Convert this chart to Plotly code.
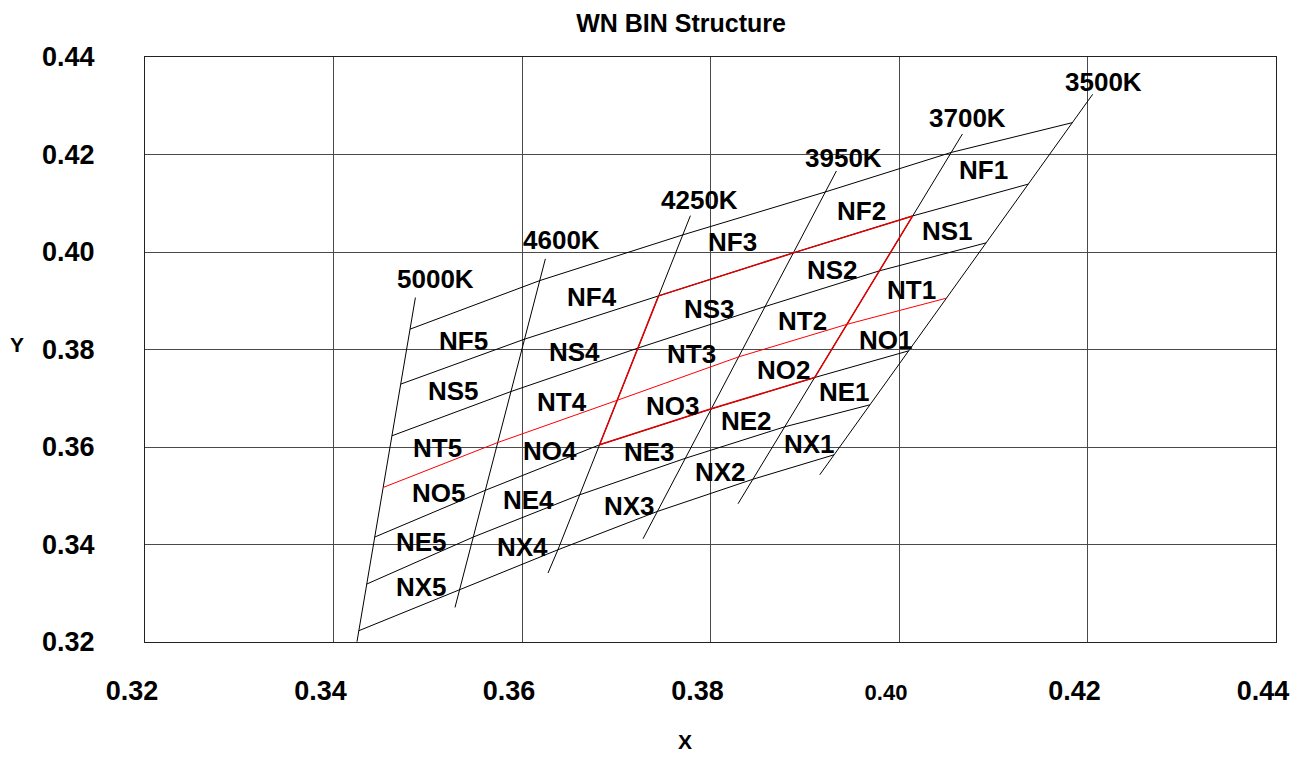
import plotly.graph_objects as go

# ---------------- data ----------------
cct_labels = ['5000K', '4600K', '4250K', '3950K', '3700K', '3500K']
bin_rows = ['F', 'S', 'T', 'O', 'E', 'X']          # between boundary lines 0-1, 1-2, ... 5-6
bin_cols = ['5', '4', '3', '2', '1']               # between isotherms 0-1, 1-2, ... 4-5

# vertices: x / y of each isotherm where it meets boundary lines 0..6 (top to bottom)
iso_x = [
    [0.34812, 0.34713, 0.34620, 0.34527, 0.34438, 0.34353, 0.34269],
    [0.36189, 0.36027, 0.35883, 0.35743, 0.35611, 0.35483, 0.35338],
    [0.37706, 0.37449, 0.37229, 0.37010, 0.36823, 0.36613, 0.36381],
    [0.39219, 0.38879, 0.38579, 0.38299, 0.38009, 0.37733, 0.37436],
    [0.40554, 0.40145, 0.39791, 0.39447, 0.39105, 0.38787, 0.38449],
    [0.41839, 0.41371, 0.40924, 0.40503, 0.40102, 0.39691, 0.39311],
]
iso_y = [
    [0.38417, 0.37290, 0.36230, 0.35170, 0.34153, 0.33189, 0.32232],
    [0.39414, 0.38212, 0.37138, 0.36092, 0.35112, 0.34153, 0.33072],
    [0.40351, 0.39100, 0.38028, 0.36958, 0.36045, 0.35020, 0.33892],
    [0.41232, 0.39982, 0.38881, 0.37849, 0.36783, 0.35768, 0.34678],
    [0.42042, 0.40740, 0.39613, 0.38516, 0.37425, 0.36414, 0.35338],
    [0.42653, 0.41392, 0.40187, 0.39053, 0.37972, 0.36865, 0.35840],
]
# isotherm end points
iso_top_x = [0.34869, 0.36248, 0.37787, 0.39336, 0.40673, 0.42055]
iso_top_y = [0.39065, 0.39859, 0.40746, 0.41663, 0.42421, 0.43235]
iso_bot_x = [0.34249, 0.35289, 0.36276, 0.37284, 0.38292, 0.39159]
iso_bot_y = [0.32006, 0.32709, 0.33415, 0.34118, 0.34836, 0.35430]

planck_line = 3            # boundary line drawn in red (black body locus)
red_rows = [1, 4]          # red quad: boundary lines
red_isos = [2, 4]          # red quad: isotherms

x_tick_vals = [0.32, 0.34, 0.36, 0.38, 0.40, 0.42, 0.44]
x_tick_text = ['0.32', '0.34', '0.36', '0.38', '0.40', '0.42', '0.44']
y_tick_vals = [0.32, 0.34, 0.36, 0.38, 0.40, 0.42, 0.44]
y_tick_text = ['0.32', '0.34', '0.36', '0.38', '0.40', '0.42', '0.44']

# ---------------- styling / placement ----------------
FONT = 'Liberation Sans'
LABEL_SIZE = 26
cct_shift_x = [20, 16, 9, 7, 5, 11]
cct_shift_y = [19, 19, 16, 13, 16, 12]
# pixel nudges of bin labels from the bin centroid (dx right, dy down)
bin_nudge = [
    [(-5, 8), (-9, 9), (-8, -2), (-9, 8), (-8, 1)],
    [(-4, 3), (-8, 8), (-4, 8), (-5, 8), (-4, 3)],
    [(-8, 9), (-4, 6), (2, 1), (-5, 6), (-3, 6)],
    [(3, 4), (0, 7), (6, 3), (6, 3), (6, 2)],
    [(-4, 5), (-6, 8), (5, 0), (-3, 3), (0, 2)],
    [(7, 2), (5, 4), (9, 2), (0, 3), (-1, 3)],
]

fig = go.Figure()
n_iso = len(cct_labels)
n_lines = len(iso_x[0])


def add_line(xs, ys, color='black', width=1):
    fig.add_trace(go.Scatter(x=xs, y=ys, mode='lines', hoverinfo='skip',
                             showlegend=False,
                             line=dict(color=color, width=width)))


# isotherms
for i in range(n_iso):
    add_line([iso_top_x[i]] + iso_x[i] + [iso_bot_x[i]],
             [iso_top_y[i]] + iso_y[i] + [iso_bot_y[i]])

# boundary (constant duv) lines
for j in range(n_lines):
    if j == planck_line:
        continue
    add_line([iso_x[i][j] for i in range(n_iso)],
             [iso_y[i][j] for i in range(n_iso)])

# red quad
for j in red_rows:
    add_line([iso_x[i][j] for i in range(red_isos[0], red_isos[1] + 1)],
             [iso_y[i][j] for i in range(red_isos[0], red_isos[1] + 1)],
             color='#e00000', width=1.5)
for i in red_isos:
    add_line(iso_x[i][red_rows[0]:red_rows[1] + 1],
             iso_y[i][red_rows[0]:red_rows[1] + 1],
             color='#e00000', width=1.5)

# black body locus
add_line([iso_x[i][planck_line] for i in range(n_iso)],
         [iso_y[i][planck_line] for i in range(n_iso)],
         color='#ff0000', width=1)

annotations = []
# temperature labels
for i, lab in enumerate(cct_labels):
    annotations.append(dict(x=iso_top_x[i], y=iso_top_y[i], xref='x', yref='y',
                            text='<b>%s</b>' % lab, showarrow=False,
                            xanchor='center', yanchor='middle',
                            xshift=cct_shift_x[i], yshift=cct_shift_y[i],
                            font=dict(family=FONT, size=LABEL_SIZE, color='black')))

# bin labels at the centroid of each bin
for r, row in enumerate(bin_rows):
    for c, col in enumerate(bin_cols):
        xs = [iso_x[c][r], iso_x[c + 1][r], iso_x[c][r + 1], iso_x[c + 1][r + 1]]
        ys = [iso_y[c][r], iso_y[c + 1][r], iso_y[c][r + 1], iso_y[c + 1][r + 1]]
        dx, dy = bin_nudge[r][c]
        annotations.append(dict(x=sum(xs) / 4, y=sum(ys) / 4, xref='x', yref='y',
                                text='<b>N%s%s</b>' % (row, col), showarrow=False,
                                xanchor='center', yanchor='middle',
                                xshift=dx, yshift=-dy,
                                font=dict(family=FONT, size=LABEL_SIZE, color='black')))

# axis titles
annotations.append(dict(x=0.4772, y=-0.170, xref='paper', yref='paper', text='<b>X</b>',
                        showarrow=False, xanchor='center', yanchor='middle',
                        font=dict(family=FONT, size=21, color='black')))
annotations.append(dict(x=-0.1134, y=0.5094, xref='paper', yref='paper', text='<b>Y</b>',
                        showarrow=False, xanchor='center', yanchor='middle',
                        font=dict(family=FONT, size=21, color='black')))

x_text = ['<b>%s</b>' % t if t != '0.40' else '<b><span style="font-size:22px">%s</span></b>' % t
          for t in x_tick_text]
y_text = ['<b>%s</b>' % t for t in y_tick_text]

# the page adds an 8px body margin, so the figure is sized to fit inside it
W, H = 1285, 744
fig.update_layout(
    width=W, height=H, autosize=False,
    margin=dict(l=137, r=17, t=49, b=110),
    paper_bgcolor='white', plot_bgcolor='white',
    title=dict(text='<b>WN BIN Structure</b>', x=(681 - 8) / W, y=1 - (23 - 8) / H,
               xanchor='center', yanchor='middle', xref='container', yref='container',
               font=dict(family=FONT, size=25, color='black')),
    annotations=annotations,
    xaxis=dict(range=[0.32, 0.44], tickvals=x_tick_vals, ticktext=x_text,
               showgrid=True, gridcolor='#4a4a4a', gridwidth=1, zeroline=False,
               showline=True, linecolor='#222222', linewidth=1, mirror=True,
               automargin=False,
               ticks='', ticklabelstandoff=25, ticklabelshift=-13,
               tickfont=dict(family=FONT, size=27, color='black')),
    yaxis=dict(range=[0.32, 0.44], tickvals=y_tick_vals, ticktext=y_text,
               showgrid=True, gridcolor='#4a4a4a', gridwidth=1, zeroline=False,
               showline=True, linecolor='#222222', linewidth=1, mirror=True,
               automargin=False,
               ticks='', ticklabelstandoff=44,
               tickfont=dict(family=FONT, size=27, color='black')),
)

fig.write_html('out.html', config={'responsive': False})
